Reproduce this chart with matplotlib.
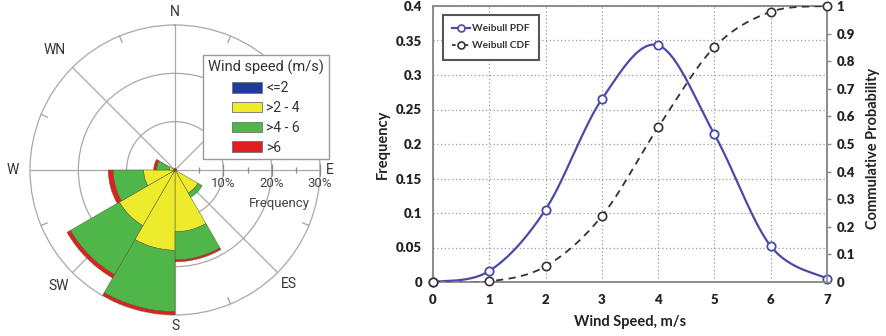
import numpy as np
import matplotlib
matplotlib.use('Agg')
import matplotlib.pyplot as plt
from matplotlib.patches import Patch
from matplotlib.lines import Line2D

# ---------------- data: wind rose (percent frequency per 30-degree sector) ----------------
sector_centers = [15, 45, 75, 105, 135, 165, 195, 225, 255, 285, 315, 345]
speed_le2 = [0.3, 0.3, 0.3, 0.3, 0.3, 0.3, 0.4, 0.4, 0.4, 0.3, 0.3, 0.3]
speed_2_4 = [0.0, 0.0, 0.0, 0.0, 5.2, 12.5, 16.2, 12.9, 6.1, 0.9, 0.0, 0.0]
speed_4_6 = [0.0, 0.0, 0.0, 0.0, 1.0, 5.8, 12.7, 11.7, 6.3, 2.6, 0.0, 0.0]
speed_gt6 = [0.0, 0.0, 0.0, 0.0, 0.0, 0.4, 0.7, 0.8, 1.0, 0.6, 0.0, 0.0]
class_labels = ['<=2', '>2 - 4', '>4 - 6', '>6']
class_colors = ['#1f3c9c', '#eeea2c', '#4fb64a', '#e01f1f']
dir_labels = ['N', 'WN', 'W', 'SW', 'S', 'ES', 'E']
dir_angles = [0, 315, 270, 225, 180, 135, 90]
freq_ticks = [10, 20, 30]

# ---------------- data: Weibull distribution ----------------
wind_speed = [0, 1, 2, 3, 4, 5, 6, 7]
weibull_pdf = [0.0, 0.016, 0.105, 0.265, 0.343, 0.214, 0.052, 0.005]
weibull_cdf = [0.0, 0.002, 0.057, 0.239, 0.560, 0.851, 0.979, 1.0]


def bezier_smooth(x, y, n=30):
    """Excel-like smoothed line drawn through the given points."""
    P = np.column_stack([x, y]).astype(float)
    out = []
    t = np.linspace(0, 1, n)[:, None]
    for i in range(len(P) - 1):
        p0 = P[i - 1] if i > 0 else P[i]
        p1, p2 = P[i], P[i + 1]
        p3 = P[i + 2] if i + 2 < len(P) else P[i + 1]
        c1 = p1 + (p2 - p0) / 6.0
        c2 = p2 - (p3 - p1) / 6.0
        seg = (1 - t) ** 3 * p1 + 3 * (1 - t) ** 2 * t * c1 + 3 * (1 - t) * t ** 2 * c2 + t ** 3 * p2
        out.append(seg if i == 0 else seg[1:])
    s = np.vstack(out)
    return s[:, 0], s[:, 1]


W, H = 886, 336
fig = plt.figure(figsize=(W / 100, H / 100), dpi=100)
fig.patch.set_facecolor('white')

# ======================= wind rose =======================
rose_font = 'Roboto'
axp = fig.add_axes([30 / W, 1 - 315 / H, 290 / W, 290 / H], projection='polar')
axp.set_theta_zero_location('N')
axp.set_theta_direction(-1)
axp.set_ylim(0, 30)
axp.set_axisbelow(True)
axp.set_rgrids([10, 20], labels=[])
axp.set_thetagrids(np.arange(0, 360, 45), labels=[])
axp.grid(True, color='#a8a8a8', lw=0.9)
axp.spines['polar'].set_color('#a8a8a8')
axp.spines['polar'].set_linewidth(0.9)
axp.tick_params(length=0)

theta = np.deg2rad(sector_centers)
bottom = np.zeros(len(sector_centers))
for vals, col in zip([speed_le2, speed_2_4, speed_4_6, speed_gt6], class_colors):
    vals = np.asarray(vals, float)
    m = vals > 0
    axp.bar(theta[m], vals[m], width=np.deg2rad(30), bottom=bottom[m], color=col,
            edgecolor='#5b5b30', linewidth=0.35, zorder=3)
    bottom += vals

# small ticks along the E axis
axp.plot(np.full(3, np.pi / 2), freq_ticks, ls='none', marker='|', ms=8, mew=0.9,
         color='#8a8a8a', clip_on=False, zorder=4)
axp.plot(np.full(3, np.pi / 2), [5, 15, 25], ls='none', marker='|', ms=5, mew=0.9,
         color='#8a8a8a', clip_on=False, zorder=4)
# minor ticks on outer circle
for b in np.arange(22.5, 360, 45):
    axp.plot([np.deg2rad(b)] * 2, [28.6, 30], color='#a0a0a0', lw=0.9, clip_on=False)

label_r = [32.6, 35.2, 33.6, 34.0, 32.3, 33.4, 32.0]
for lab, ang, r in zip(dir_labels, dir_angles, label_r):
    axp.text(np.deg2rad(ang), r, lab, ha='center', va='center', fontsize=10,
             family=rose_font, color='#333333', clip_on=False)

for r in freq_ticks:
    axp.annotate(f'{r}%', xy=(np.pi / 2, r), xytext=(0, -10), textcoords='offset points',
                 ha='center', va='center', fontsize=9.5, family=rose_font, color='#444444')
axp.annotate('Frequency', xy=(np.pi / 2, 21.5), xytext=(0, -24), textcoords='offset points',
             ha='center', va='center', fontsize=9.5, family=rose_font, color='#444444')

handles = [Patch(facecolor=c, edgecolor='#707070', lw=0.6) for c in class_colors]
leg = fig.legend(handles, class_labels, title='Wind speed (m/s)', loc='upper left',
                 bbox_to_anchor=(203 / W, 1 - 55 / H), bbox_transform=fig.transFigure,
                 prop={'family': rose_font, 'size': 10}, title_fontproperties={'family': rose_font, 'size': 10.5},
                 fancybox=False, framealpha=1, edgecolor='#9a9a9a', handlelength=2.2, handleheight=0.8,
                 labelspacing=0.42, borderpad=0.35, handletextpad=0.3, borderaxespad=0)
leg.get_frame().set_linewidth(1.0)
for t in leg.get_texts():
    t.set_color('#333333')
leg.get_title().set_color('#333333')

# ======================= Weibull chart =======================
bold_font = {'family': 'Lato', 'weight': 'bold'}
L, R, T, B = 433, 827, 6, 282
ax = fig.add_axes([L / W, 1 - B / H, (R - L) / W, (B - T) / H])
ax.set_xlim(0, 7)
ax.set_ylim(0, 0.4)
ax.set_xticks(wind_speed)
ax.set_yticks(np.arange(0, 0.401, 0.05))
ax.set_yticklabels(['0', '0.05', '0.1', '0.15', '0.2', '0.25', '0.3', '0.35', '0.4'])
ax.grid(True, ls=(0, (1, 2)), color='#9a9a9a', lw=0.9)
ax.set_axisbelow(True)
for s in ax.spines.values():
    s.set_color('#8c8c8c')
    s.set_linewidth(1.2)
ax.tick_params(axis='both', length=0, labelsize=9.5, colors='#222222')
ax.tick_params(axis='y', pad=8)
ax.tick_params(axis='x', pad=9)
for lab in ax.get_xticklabels() + ax.get_yticklabels():
    lab.set_fontfamily('Lato')
    lab.set_fontweight('heavy')

ax2 = ax.twinx()
ax2.set_ylim(0, 1)
ax2.set_yticks(np.arange(0, 1.001, 0.1))
ax2.set_yticklabels(['0', '0.1', '0.2', '0.3', '0.4', '0.5', '0.6', '0.7', '0.8', '0.9', '1'])
ax2.tick_params(axis='y', length=3, width=1, color='#8c8c8c', labelsize=9.5, colors='#222222', pad=4)
ax2.tick_params(axis='y', color='#8c8c8c')
for lab in ax2.get_yticklabels():
    lab.set_fontfamily('Lato')
    lab.set_fontweight('heavy')
for s in ax2.spines.values():
    s.set_color('#8c8c8c')
    s.set_linewidth(1.2)

pdf_col = '#4a4aa8'
xs, ys = bezier_smooth(wind_speed, weibull_pdf)
ax.plot(xs, ys, color=pdf_col, lw=1.6, zorder=3, clip_on=False)
ax.plot(wind_speed, weibull_pdf, ls='none', marker='o', ms=6, mfc='white', mec=pdf_col, mew=1.3,
        zorder=4, clip_on=False)

xc, yc = bezier_smooth(wind_speed, weibull_cdf)
ax2.plot(xc, np.minimum(yc, 1.0), color='#333333', lw=1.3, ls=(0, (4, 3)), zorder=3)
ax2.plot(wind_speed, weibull_cdf, ls='none', marker='o', ms=6, mfc='white', mec='#333333', mew=1.2,
         zorder=4, clip_on=False)

ax.set_ylabel('Frequency', fontdict=dict(bold_font, size=10.5), color='#222222', va='center')
ax.yaxis.set_label_coords((383 - L) / (R - L), 0.5)
ax2.set_ylabel('Commulative Probability', fontdict=dict(bold_font, size=10.5), color='#222222', va='center')
ax2.yaxis.set_label_coords((873 - L) / (R - L), (B - 148) / (B - T))
ax.set_xlabel('Wind Speed, m/s', fontdict=dict(bold_font, size=10.5), color='#222222', va='center')
ax.xaxis.set_label_coords((630 - L) / (R - L), (B - 322) / (B - T))

lh = [Line2D([], [], color=pdf_col, lw=1.6, marker='o', ms=5, mfc='white', mec=pdf_col, mew=1.2),
      Line2D([], [], color='#333333', lw=1.3, ls=(0, (2, 1.5)), marker='o', ms=5, mfc='white',
             mec='#333333', mew=1.2)]
leg2 = ax2.legend(lh, ['Weibull PDF', 'Weibull CDF'], loc='upper left',
                  bbox_to_anchor=(443 / W, 1 - 15 / H), bbox_transform=fig.transFigure,
                  prop={'family': 'Lato', 'weight': 'bold', 'size': 7.3}, fancybox=False, framealpha=1,
                  edgecolor='#555555', handlelength=1.8, handletextpad=0.2, borderpad=0.9,
                  labelspacing=0.8, borderaxespad=0)
leg2.get_frame().set_linewidth(1.5)
for t in leg2.get_texts():
    t.set_color('#333333')

fig.savefig('out.png', dpi=100, facecolor='white')
